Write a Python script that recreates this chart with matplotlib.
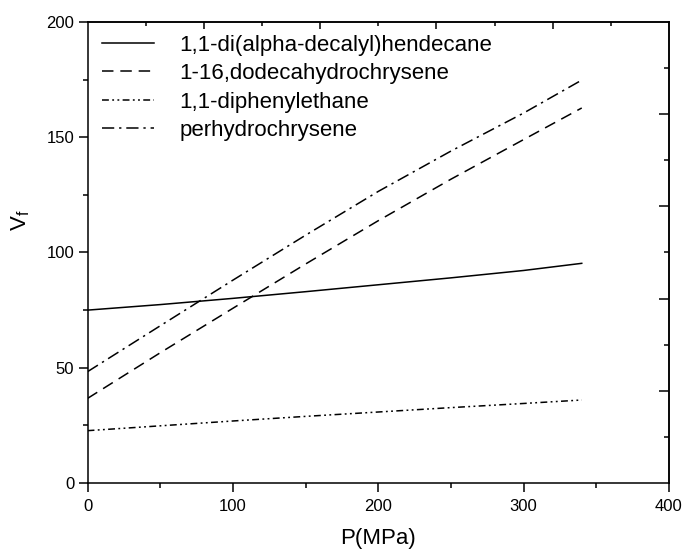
import matplotlib
matplotlib.use("Agg")
import matplotlib.pyplot as plt
from matplotlib.ticker import MultipleLocator, FixedLocator, NullFormatter

plt.rcParams['font.family'] = ['Liberation Sans', 'DejaVu Sans']

# Data (P in MPa, Vf)
P = [0, 50, 100, 150, 200, 250, 300, 340]
decalyl_hendecane = [75.0, 77.4, 80.1, 83.0, 86.0, 89.0, 92.2, 95.3]
dodecahydrochrysene = [36.7, 56.5, 75.8, 95.0, 113.8, 131.8, 149.0, 162.7]
diphenylethane = [22.7, 24.8, 26.9, 28.9, 30.8, 32.7, 34.5, 36.0]
perhydrochrysene = [48.3, 68.2, 88.0, 107.5, 126.5, 144.0, 160.5, 174.8]

labels = ["1,1-di(alpha-decalyl)hendecane", "1-16,dodecahydrochrysene",
          "1,1-diphenylethane", "perhydrochrysene"]

fig = plt.figure(figsize=(6.84, 5.53), dpi=100)
ax = fig.add_axes([0.128, 0.1266, 0.850, 0.8336])

lw = 1.1
ax.plot(P, decalyl_hendecane, color='black', lw=lw, ls='-', label=labels[0])
ax.plot(P, dodecahydrochrysene, color='black', lw=lw, ls=(0, (7.5, 4.5)), label=labels[1])
ax.plot(P, diphenylethane, color='black', lw=lw, ls=(0, (4.5, 2.2, 1.2, 2.2, 1.2, 2.2)), label=labels[2])
ax.plot(P, perhydrochrysene, color='black', lw=lw, ls=(0, (8, 3.2, 1.5, 3.2)), label=labels[3])

ax.set_xlim(0, 400)
ax.set_ylim(0, 200)
ax.xaxis.set_major_locator(MultipleLocator(100))
ax.xaxis.set_minor_locator(MultipleLocator(50))
ax.yaxis.set_major_locator(MultipleLocator(50))
ax.yaxis.set_minor_locator(MultipleLocator(25))
ax.tick_params(which='major', direction='out', length=6.5, width=1.1, labelsize=12, pad=3)
ax.tick_params(axis='x', which='major', pad=5)
ax.tick_params(which='minor', direction='out', length=3.6, width=1.1)
ax.xaxis.set_ticks_position('bottom')
ax.yaxis.set_ticks_position('left')
for s in ax.spines.values():
    s.set_linewidth(1.1)

ax.set_xlabel("P(MPa)", fontsize=16, labelpad=10)
ax.set_ylabel("V$_\\mathregular{f}$", fontsize=16)
ax.yaxis.set_label_coords(-0.095, 0.57)

# opposite axes with their own tick spacing
top = ax.secondary_xaxis('top')
top.xaxis.set_major_locator(FixedLocator([80, 160, 240, 320]))
top.xaxis.set_minor_locator(FixedLocator([40, 120, 200, 280, 360]))
top.xaxis.set_major_formatter(NullFormatter())
top.tick_params(which='major', direction='in', length=5, width=1.1)
top.tick_params(which='minor', direction='in', length=3, width=1.1)

right = ax.secondary_yaxis('right')
right.yaxis.set_major_locator(FixedLocator([40, 80, 120, 160]))
right.yaxis.set_minor_locator(FixedLocator([20, 60, 100, 140, 180]))
right.yaxis.set_major_formatter(NullFormatter())
right.tick_params(which='major', direction='in', length=7, width=1.1)
right.tick_params(which='minor', direction='in', length=3.6, width=1.1)
for sec in (top, right):
    for s in sec.spines.values():
        s.set_linewidth(1.1)

ax.legend(loc='upper left', bbox_to_anchor=(0.0244, 0.972), frameon=False,
          fontsize=16, handlelength=2.34, handletextpad=1.17, labelspacing=0.33,
          borderpad=0, borderaxespad=0)

fig.savefig("out.png", dpi=100)
